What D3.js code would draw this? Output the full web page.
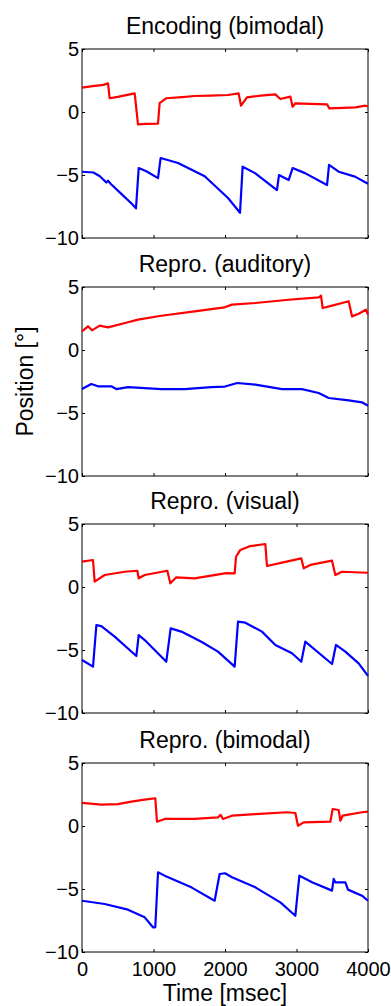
<!DOCTYPE html>
<html>
<head>
<meta charset="utf-8">
<script src="https://cdn.jsdelivr.net/npm/d3@7"></script>
<style>
  body { margin: 0; background: #fff; }
  text { font-family: "Liberation Sans", Arial, sans-serif; fill: #000; }
</style>
</head>
<body>
<div id="chart"></div>
<script>
// panel titles
var titles = ["Encoding (bimodal)", "Repro. (auditory)", "Repro. (visual)", "Repro. (bimodal)"];
var xTicks = [0, 1000, 2000, 3000, 4000];
var yTicks = [-10, -5, 0, 5];

// [time msec, position deg]
var encRed = [[0,1.93],[150,2.05],[300,2.15],[364,2.28],[387,1.09],[500,1.2],[737,1.48],[783,-0.98],[900,-0.95],[1063,-0.93],[1086,0.71],[1175,1.09],[1400,1.18],[1575,1.27],[1800,1.3],[2042,1.35],[2191,1.48],[2224,0.5],[2308,1.16],[2500,1.3],[2704,1.4],[2774,1.03],[2914,1.22],[2946,0.42],[2984,0.69],[3200,0.65],[3427,0.61],[3459,0.29],[3650,0.33],[3823,0.37],[3963,0.5],[4000,0.45]];
var encBlue = [[0,-4.74],[160,-4.8],[250,-5.1],[340,-5.6],[364,-5.45],[400,-5.7],[550,-6.5],[700,-7.3],[755,-7.65],[793,-4.45],[900,-4.7],[1063,-5.25],[1100,-3.65],[1343,-4.05],[1716,-5.1],[2042,-6.83],[2210,-8.0],[2247,-4.34],[2420,-4.85],[2727,-6.2],[2755,-5.0],[2890,-5.4],[2946,-4.45],[3119,-4.85],[3427,-5.8],[3455,-4.2],[3590,-4.74],[3818,-5.13],[4000,-5.7]];
var audRed = [[0,1.48],[84,1.88],[140,1.56],[247,1.93],[364,1.8],[643,2.2],[783,2.41],[1109,2.72],[1575,3.07],[1995,3.39],[2098,3.6],[2424,3.73],[2890,3.99],[3310,4.18],[3343,4.31],[3366,3.33],[3497,3.52],[3730,3.87],[3776,2.67],[3869,2.88],[3972,3.2],[4000,2.8]];
var audBlue = [[0,-3.1],[130,-2.7],[224,-2.88],[410,-2.88],[480,-3.1],[643,-2.94],[1109,-3.1],[1436,-3.1],[1808,-2.94],[2000,-2.9],[2172,-2.62],[2424,-2.75],[2797,-3.1],[3077,-3.1],[3310,-3.41],[3450,-3.81],[3730,-4.0],[3916,-4.15],[4000,-4.42]];
var visRed = [[0,2.01],[154,2.14],[177,0.42],[317,0.95],[597,1.21],[774,1.29],[793,0.69],[877,0.95],[1193,1.29],[1235,0.29],[1319,0.77],[1575,0.69],[2018,1.1],[2135,1.08],[2154,2.4],[2214,2.94],[2354,3.25],[2564,3.41],[2587,1.67],[2797,1.93],[3067,2.27],[3101,1.48],[3193,1.75],[3497,2.09],[3543,0.95],[3636,1.21],[3986,1.13],[4000,1.13]];
var visBlue = [[0,-5.79],[154,-6.32],[201,-3.02],[270,-3.1],[457,-3.94],[760,-5.48],[793,-3.81],[877,-4.21],[1179,-5.93],[1240,-3.28],[1389,-3.54],[1669,-4.34],[1902,-5.13],[2135,-6.32],[2182,-2.75],[2284,-2.83],[2517,-3.54],[2704,-4.6],[2937,-5.26],[3067,-5.93],[3123,-4.34],[3497,-6.11],[3552,-4.6],[3683,-5.13],[3869,-6.06],[4000,-7.05]];
var bimRed = [[0,1.83],[270,1.69],[503,1.74],[690,1.93],[877,2.09],[1025,2.2],[1049,0.34],[1156,0.56],[1575,0.56],[1902,0.69],[1939,0.88],[1972,0.56],[2098,0.82],[2424,0.95],[2867,1.09],[2984,1.03],[3021,0.02],[3101,0.29],[3473,0.34],[3506,1.35],[3590,1.27],[3613,0.42],[3646,0.82],[3916,1.09],[4000,1.14]];
var bimBlue = [[0,-5.93],[317,-6.19],[643,-6.64],[877,-7.25],[993,-8.04],[1025,-8.04],[1063,-3.67],[1156,-3.94],[1529,-4.87],[1855,-5.93],[1925,-3.81],[2000,-3.75],[2098,-4.07],[2424,-4.87],[2774,-6.06],[2984,-7.12],[3040,-3.94],[3217,-4.47],[3497,-5.13],[3520,-4.2],[3543,-4.47],[3683,-4.47],[3720,-5.05],[3916,-5.53],[4000,-5.93]];

var reds = [encRed, audRed, visRed, bimRed];
var blues = [encBlue, audBlue, visBlue, bimBlue];

var margin = { left: 82, right: 23 },
    width = 391 - margin.left - margin.right,
    height = 189,
    tops = [49, 287, 524, 763];

var svg = d3.select("#chart").append("svg")
    .attr("width", 391)
    .attr("height", 1006);

var x = d3.scaleLinear().domain([0, 4000]).range([0, width]);
var y = d3.scaleLinear().domain([-10, 5]).range([height, 0]);

var line = d3.line()
    .x(function (d) { return x(d[0]); })
    .y(function (d) { return y(d[1]); });

titles.forEach(function (t, i) {
    var g = svg.append("g")
        .attr("transform", "translate(" + margin.left + "," + tops[i] + ")");

    var last = i === titles.length - 1;

    // matlab style axes: ticks inside on every side
    var xb = d3.axisBottom(x).tickValues(xTicks).tickSizeInner(-3).tickSizeOuter(0).tickPadding(10).tickFormat(d3.format("d"));
    if (!last) xb.tickFormat("");
    g.append("g").attr("transform", "translate(0," + height + ")").call(xb).call(customAxis);
    g.append("g").call(d3.axisTop(x).tickValues(xTicks).tickSizeInner(-3).tickSizeOuter(0).tickFormat("")).call(customAxis);
    g.append("g").call(d3.axisLeft(y).tickValues(yTicks).tickSizeInner(-3).tickSizeOuter(0).tickPadding(3).tickFormat(d3.format("d"))).call(customAxis);
    g.append("g").attr("transform", "translate(" + width + ",0)")
        .call(d3.axisRight(y).tickValues(yTicks).tickSizeInner(-3).tickSizeOuter(0).tickFormat("")).call(customAxis);

    g.append("rect")
        .attr("width", width).attr("height", height)
        .attr("fill", "none").attr("stroke", "#000").attr("stroke-width", 1);

    g.append("path").datum(reds[i])
        .attr("d", line).attr("fill", "none")
        .attr("stroke", "#ff0000").attr("stroke-width", 2.2).attr("stroke-linejoin", "round");
    g.append("path").datum(blues[i])
        .attr("d", line).attr("fill", "none")
        .attr("stroke", "#0000ff").attr("stroke-width", 2.2).attr("stroke-linejoin", "round");

    g.append("text")
        .attr("x", width / 2).attr("y", -15)
        .attr("text-anchor", "middle")
        .style("font-size", "23px")
        .text(t);
});

function customAxis(g) {
    g.select(".domain").remove();
    g.selectAll(".tick line").attr("stroke", "#000");
    g.selectAll(".tick text").style("font-size", "20px").attr("fill", "#000");
}

// axis labels
svg.append("text")
    .attr("x", margin.left + width / 2).attr("y", 1001)
    .attr("text-anchor", "middle")
    .style("font-size", "23px")
    .text("Time [msec]");

svg.append("text")
    .attr("transform", "translate(33," + (tops[1] + height / 2) + ") rotate(-90)")
    .attr("text-anchor", "middle")
    .style("font-size", "23px")
    .text("Position [°]");
</script>
</body>
</html>
